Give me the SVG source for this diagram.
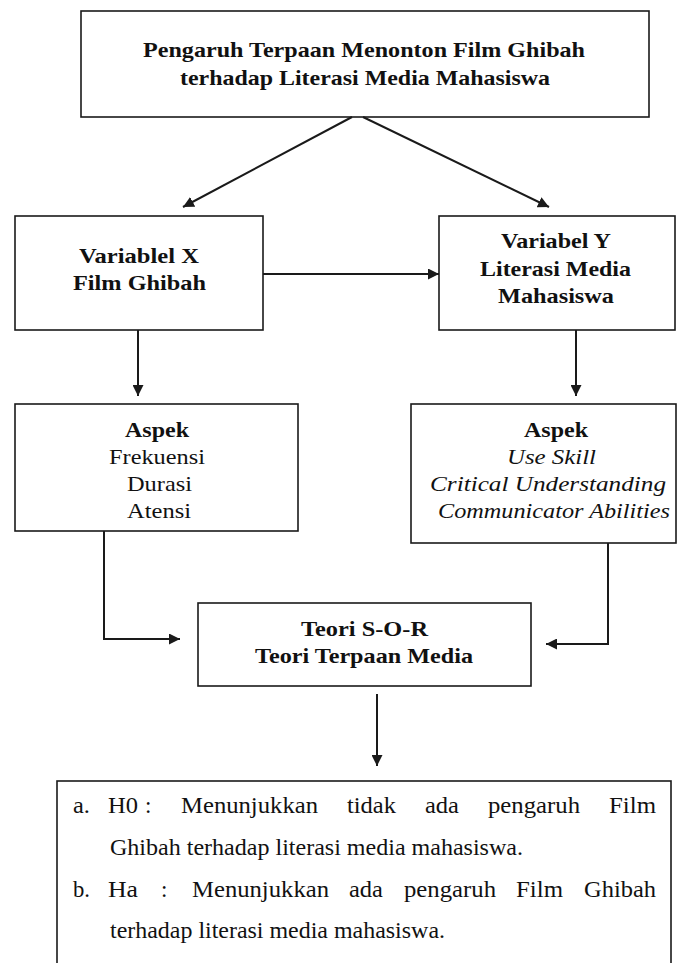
<svg xmlns="http://www.w3.org/2000/svg" width="678" height="963" viewBox="0 0 678 963">
<style>
.box{fill:#fff;stroke:#1a1a1a;stroke-width:1.6}
.b{font-family:"Liberation Serif","Times New Roman","DejaVu Serif",serif;font-weight:bold;font-size:21px;fill:#111}
.r{font-family:"Liberation Serif","Times New Roman","DejaVu Serif",serif;font-size:22px;fill:#111}
.i{font-family:"Liberation Serif","Times New Roman","DejaVu Serif",serif;font-style:italic;font-size:22px;fill:#111}
.t{font-family:"Liberation Serif","Times New Roman","DejaVu Serif",serif;font-size:23px;fill:#111}
.c{fill:none;stroke:#1a1a1a;stroke-width:2}
</style>
<defs>
<marker id="ah" markerUnits="userSpaceOnUse" markerWidth="12" markerHeight="11" refX="11" refY="5.5" orient="auto">
<path d="M0,0 L11,5.5 L0,11 Z" fill="#1a1a1a"/>
</marker>
</defs>
<rect width="678" height="963" fill="#fff"/>
<g id="judul">
<rect class="box" x="81" y="11" width="568" height="106"/>
<text class="b" x="143" y="57" textLength="442" lengthAdjust="spacingAndGlyphs">Pengaruh Terpaan Menonton Film Ghibah</text>
<text class="b" x="180" y="85" textLength="370" lengthAdjust="spacingAndGlyphs">terhadap Literasi Media Mahasiswa</text>
</g>
<g id="varX">
<rect class="box" x="15" y="216" width="248" height="114"/>
<text class="b" x="79" y="263" textLength="120" lengthAdjust="spacingAndGlyphs">Variablel X</text>
<text class="b" x="73" y="290" textLength="133" lengthAdjust="spacingAndGlyphs">Film Ghibah</text>
</g>
<g id="varY">
<rect class="box" x="439" y="216" width="236" height="114"/>
<text class="b" x="501" y="248" textLength="110" lengthAdjust="spacingAndGlyphs">Variabel Y</text>
<text class="b" x="480" y="276" textLength="151" lengthAdjust="spacingAndGlyphs">Literasi Media</text>
<text class="b" x="498" y="303" textLength="116" lengthAdjust="spacingAndGlyphs">Mahasiswa</text>
</g>
<g id="aspekX">
<rect class="box" x="15" y="404" width="283" height="127"/>
<text class="b" x="125" y="437" textLength="64" lengthAdjust="spacingAndGlyphs">Aspek</text>
<text class="r" x="109" y="464" textLength="96" lengthAdjust="spacingAndGlyphs">Frekuensi</text>
<text class="r" x="127" y="491" textLength="65" lengthAdjust="spacingAndGlyphs">Durasi</text>
<text class="r" x="127" y="518" textLength="64" lengthAdjust="spacingAndGlyphs">Atensi</text>
</g>
<g id="aspekY">
<rect class="box" x="411" y="404" width="265" height="139"/>
<text class="b" x="524" y="437" textLength="64" lengthAdjust="spacingAndGlyphs">Aspek</text>
<text class="i" x="507" y="464" textLength="89" lengthAdjust="spacingAndGlyphs">Use Skill</text>
<text class="i" x="430" y="491" textLength="236" lengthAdjust="spacingAndGlyphs">Critical Understanding</text>
<text class="i" x="438" y="518" textLength="232" lengthAdjust="spacingAndGlyphs">Communicator Abilities</text>
</g>
<g id="teori">
<rect class="box" x="198" y="603" width="333" height="83"/>
<text class="b" x="301" y="636" textLength="127" lengthAdjust="spacingAndGlyphs">Teori S-O-R</text>
<text class="b" x="255" y="663" textLength="218" lengthAdjust="spacingAndGlyphs">Teori Terpaan Media</text>
</g>
<g id="hipotesis">
<rect class="box" x="57" y="781" width="614" height="200"/>
<text class="t" x="73" y="813" textLength="17" lengthAdjust="spacingAndGlyphs">a.</text>
<text class="t" x="108" y="813" textLength="30" lengthAdjust="spacingAndGlyphs">H0</text>
<text class="t" x="145" y="813">:</text>
<text class="t" x="181" y="813" textLength="137" lengthAdjust="spacingAndGlyphs">Menunjukkan</text>
<text class="t" x="347" y="813" textLength="49" lengthAdjust="spacingAndGlyphs">tidak</text>
<text class="t" x="425" y="813" textLength="34" lengthAdjust="spacingAndGlyphs">ada</text>
<text class="t" x="488" y="813" textLength="92" lengthAdjust="spacingAndGlyphs">pengaruh</text>
<text class="t" x="609" y="813" textLength="47" lengthAdjust="spacingAndGlyphs">Film</text>
<text class="t" x="110" y="855" textLength="413" lengthAdjust="spacingAndGlyphs">Ghibah terhadap literasi media mahasiswa.</text>
<text class="t" x="73" y="897" textLength="17" lengthAdjust="spacingAndGlyphs">b.</text>
<text class="t" x="108" y="897" textLength="30" lengthAdjust="spacingAndGlyphs">Ha</text>
<text class="t" x="161" y="897">:</text>
<text class="t" x="192" y="897" textLength="137" lengthAdjust="spacingAndGlyphs">Menunjukkan</text>
<text class="t" x="349" y="897" textLength="34" lengthAdjust="spacingAndGlyphs">ada</text>
<text class="t" x="404" y="897" textLength="92" lengthAdjust="spacingAndGlyphs">pengaruh</text>
<text class="t" x="516" y="897" textLength="47" lengthAdjust="spacingAndGlyphs">Film</text>
<text class="t" x="584" y="897" textLength="72" lengthAdjust="spacingAndGlyphs">Ghibah</text>
<text class="t" x="110" y="938" textLength="335" lengthAdjust="spacingAndGlyphs">terhadap literasi media mahasiswa.</text>
</g>
<g id="connectors">
<line class="c" x1="352" y1="117" x2="183" y2="207" marker-end="url(#ah)"/>
<line class="c" x1="363" y1="117" x2="549" y2="207" marker-end="url(#ah)"/>
<line class="c" x1="263" y1="274" x2="439" y2="274" marker-end="url(#ah)"/>
<line class="c" x1="138" y1="330" x2="138" y2="396" marker-end="url(#ah)"/>
<line class="c" x1="576" y1="330" x2="576" y2="396" marker-end="url(#ah)"/>
<polyline class="c" points="104,531 104,639 180,639" marker-end="url(#ah)"/>
<polyline class="c" points="608,543 608,644 546,644" marker-end="url(#ah)"/>
<line class="c" x1="377" y1="694" x2="377" y2="766" marker-end="url(#ah)"/>
</g>
</svg>
